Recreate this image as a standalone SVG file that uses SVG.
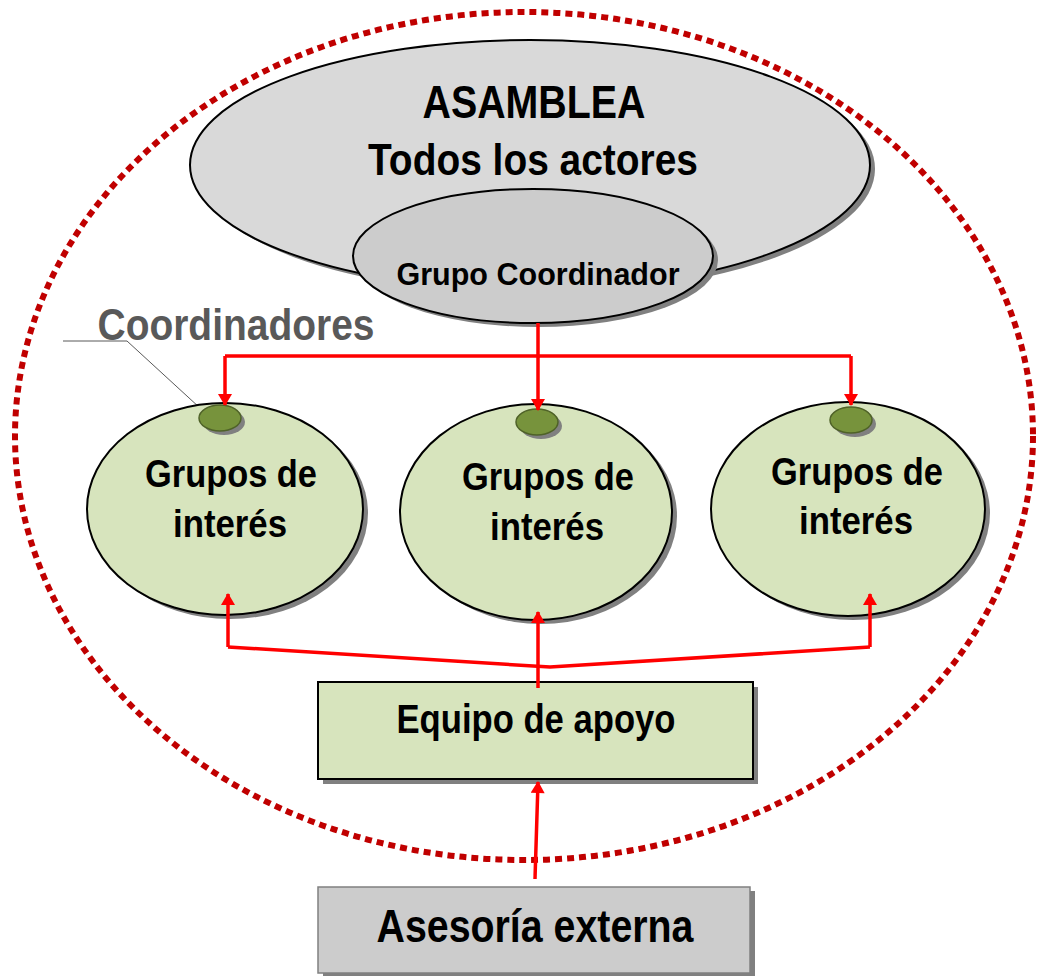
<svg xmlns="http://www.w3.org/2000/svg" width="1037" height="976" viewBox="0 0 1037 976">
<defs>
<style>
.t{font-family:"Liberation Sans Narrow","Liberation Sans",Arial,sans-serif;font-weight:bold;fill:#000;text-anchor:middle}
.sh{fill:#808080}
.gi{fill:#d7e4bd;stroke:#000;stroke-width:2}
.dot{fill:#77933c;stroke:#4f6228;stroke-width:1.5}
.rl{fill:none;stroke:#ff0000;stroke-width:3.5}
</style>
<marker id="ah" viewBox="0 0 12 14" refX="11" refY="7" markerWidth="13" markerHeight="14" markerUnits="userSpaceOnUse" orient="auto">
<path d="M0,0 L12,7 L0,14 Z" fill="#ff0000"/>
</marker>
</defs>
<rect width="1037" height="976" fill="#fff"/>

<g id="boundary">
<ellipse cx="524" cy="436" rx="509" ry="424" fill="none" stroke="#c00000" stroke-width="6" stroke-dasharray="7 5"/>
</g>

<g id="asamblea">
<ellipse class="sh" cx="535" cy="169" rx="340" ry="125"/>
<ellipse cx="530" cy="165" rx="340" ry="125" fill="#d9d9d9" stroke="#000" stroke-width="2"/>
<text class="t" x="534" y="118" font-size="46" textLength="223" lengthAdjust="spacingAndGlyphs">ASAMBLEA</text>
<text class="t" x="533" y="175" font-size="44" textLength="330" lengthAdjust="spacingAndGlyphs">Todos los actores</text>
</g>

<g id="grupo-coordinador">
<ellipse class="sh" cx="538" cy="260" rx="180" ry="67"/>
<ellipse cx="533" cy="256" rx="180" ry="67" fill="#cccccc" stroke="#000" stroke-width="2"/>
<text class="t" x="538" y="285" font-size="32" textLength="283" lengthAdjust="spacingAndGlyphs">Grupo Coordinador</text>
</g>

<g id="coordinadores-label">
<text x="236" y="340" font-family="'Liberation Sans Narrow','Liberation Sans',Arial,sans-serif" font-weight="bold" font-size="44" fill="#595959" text-anchor="middle" textLength="277" lengthAdjust="spacingAndGlyphs">Coordinadores</text>
<polyline points="63,341 127,341 200,408" fill="none" stroke="#595959" stroke-width="1"/>
</g>

<g id="grupo-1">
<ellipse class="sh" cx="230" cy="513" rx="138" ry="106"/>
<ellipse class="gi" cx="225" cy="509" rx="138" ry="106"/>
<text class="t" x="231" y="487" font-size="38" textLength="172" lengthAdjust="spacingAndGlyphs">Grupos de</text>
<text class="t" x="230" y="537" font-size="38" textLength="114" lengthAdjust="spacingAndGlyphs">interés</text>
<ellipse class="sh" cx="224" cy="422" rx="21" ry="13"/>
<ellipse class="dot" cx="220" cy="418" rx="21" ry="13"/>
</g>

<g id="grupo-2">
<ellipse class="sh" cx="541" cy="516" rx="136" ry="108"/>
<ellipse class="gi" cx="536" cy="512" rx="136" ry="108"/>
<text class="t" x="548" y="490" font-size="38" textLength="172" lengthAdjust="spacingAndGlyphs">Grupos de</text>
<text class="t" x="547" y="540" font-size="38" textLength="114" lengthAdjust="spacingAndGlyphs">interés</text>
<ellipse class="sh" cx="541" cy="426" rx="21" ry="13"/>
<ellipse class="dot" cx="537" cy="422" rx="21" ry="13"/>
</g>

<g id="grupo-3">
<ellipse class="sh" cx="853" cy="513" rx="137" ry="107"/>
<ellipse class="gi" cx="848" cy="509" rx="137" ry="107"/>
<text class="t" x="857" y="485" font-size="38" textLength="172" lengthAdjust="spacingAndGlyphs">Grupos de</text>
<text class="t" x="856" y="534" font-size="38" textLength="114" lengthAdjust="spacingAndGlyphs">interés</text>
<ellipse class="sh" cx="855" cy="424" rx="21" ry="13"/>
<ellipse class="dot" cx="851" cy="420" rx="21" ry="13"/>
</g>

<g id="equipo-apoyo">
<rect class="sh" x="323" y="687" width="435" height="97"/>
<rect x="318" y="682" width="435" height="97" fill="#d7e4bd" stroke="#000" stroke-width="2"/>
<text class="t" x="536" y="733" font-size="41" textLength="279" lengthAdjust="spacingAndGlyphs">Equipo de apoyo</text>
</g>

<g id="asesoria-externa">
<rect class="sh" x="323" y="891" width="432" height="86"/>
<rect x="318" y="887" width="432" height="86" fill="#cccccc" stroke="#808080" stroke-width="1.5"/>
<text class="t" x="535" y="942" font-size="47" textLength="317" lengthAdjust="spacingAndGlyphs">Asesoría externa</text>
</g>

<g id="connectors">
<polyline class="rl" points="538,323 538,356 225,356"/>
<polyline class="rl" points="538,356 851,356"/>
<line class="rl" x1="225" y1="356" x2="225" y2="405" marker-end="url(#ah)"/>
<line class="rl" x1="538" y1="356" x2="538" y2="410" marker-end="url(#ah)"/>
<line class="rl" x1="851" y1="356" x2="851" y2="405" marker-end="url(#ah)"/>
<line class="rl" x1="538" y1="688" x2="538" y2="612" marker-end="url(#ah)"/>
<polyline class="rl" points="228,647 550,667 870,647"/>
<line class="rl" x1="228" y1="647" x2="228" y2="594" marker-end="url(#ah)"/>
<line class="rl" x1="870" y1="647" x2="870" y2="594" marker-end="url(#ah)"/>
<line class="rl" x1="535" y1="879" x2="538" y2="782" marker-end="url(#ah)"/>
</g>
</svg>
